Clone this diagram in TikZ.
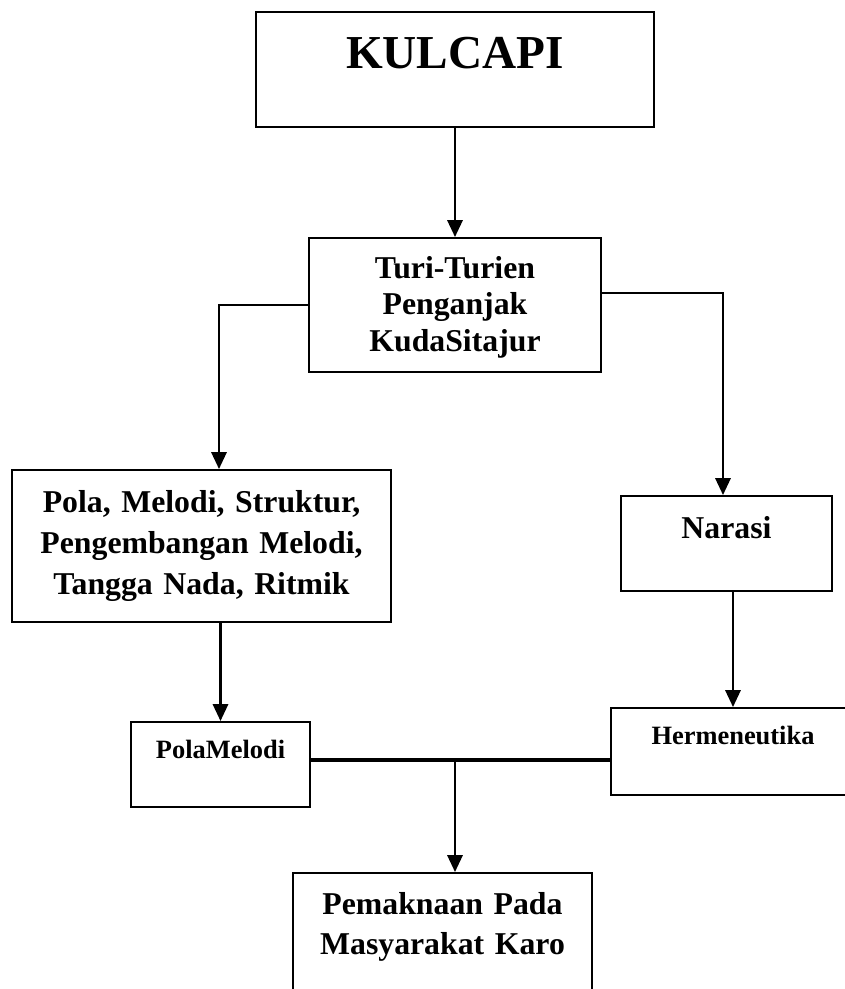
\documentclass[tikz,border=0pt]{standalone}
\usepackage{fontspec}
\setmainfont{Liberation Serif}
\usetikzlibrary{arrows.meta,positioning,calc}

\begin{document}
\begin{tikzpicture}[
    box/.style={rectangle, draw=black, line width=1.6pt, inner sep=0pt,
                align=center, anchor=north},
    txtL/.style={font=\fontsize{33.6}{40}\selectfont\bfseries},
    txtM/.style={font=\fontsize{22.6}{#1}\selectfont\bfseries},
    txtS/.style={font=\fontsize{18.8}{22}\selectfont\bfseries},
    arr/.style={line width=1.6pt, -{Triangle[length=0.42cm, width=0.38cm]}},
    bar/.style={line width=2.8pt}
  ]
    \useasboundingbox (0,0) rectangle (21.125,-24.725);
    \clip (0,0) rectangle (21.125,-24.725);

    % Top box
    \node[box, txtL, text width=9.95cm, text height=1.4cm, text depth=1.475cm]
          (kulcapi) at (11.375,-0.275) {KULCAPI};

    % Second level
    \node[box, txtM=26, text width=7.3cm, text height=1.0cm, text depth=2.35cm]
          (turi) at (11.375,-5.925) {Turi-Turien\\Penganjak\\KudaSitajur};

    % Left branch
    \node[box, txtM=29.2, text width=9.475cm, text height=1.05cm, text depth=2.75cm]
          (pola) at (5.0375,-11.725)
          {Pola, Melodi, Struktur,\\Pengembangan Melodi,\\Tangga Nada, Ritmik};
    \node[box, txtS, text width=4.475cm, text height=0.9cm, text depth=1.225cm]
          (polamelodi) at (5.5125,-18.025) {PolaMelodi};

    % Right branch
    \node[box, txtM=26, text width=5.275cm, text height=1.05cm, text depth=1.325cm]
          (narasi) at (18.1625,-12.375) {Narasi};
    \node[box, txtS, text width=6.1cm, text height=0.9cm, text depth=1.275cm]
          (hermeneutika) at (18.325,-17.675) {Hermeneutika};

    % Bottom box
    \node[box, txtM=28.5, text width=7.475cm, text height=1.025cm, text depth=2.175cm]
          (pemaknaan) at (11.0625,-21.8) {Pemaknaan Pada\\Masyarakat Karo};

    % Connectors
    \draw[arr] (kulcapi.south) -- (turi.north);
    \draw[arr] (turi.west) -| ([xshift=0.4375cm]pola.north);
    \draw[arr] ([yshift=0.3cm]turi.east) -| ([xshift=-0.0875cm]narasi.north);
    \draw[arr] (polamelodi.north |- pola.south) -- (polamelodi.north);
    \draw[arr] (hermeneutika.north |- narasi.south) -- (hermeneutika.north);

    \coordinate (split) at (11.375,-19.0);
    \draw[bar] (polamelodi.east |- split) -- (hermeneutika.west |- split);
    \draw[arr] (split) -- (split |- pemaknaan.north);
  \end{tikzpicture}
\end{document}
